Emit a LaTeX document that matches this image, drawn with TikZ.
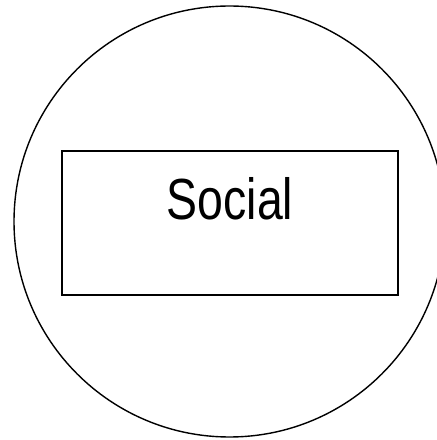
\documentclass[tikz,border=0pt]{standalone}
\usepackage{fontspec}
\setmainfont{Liberation Sans}
\begin{document}
\begin{tikzpicture}[x=1pt,y=1pt,
  ring/.style={circle,draw,line width=1.4pt,minimum size=431pt,inner sep=0pt},
  boxnode/.style={rectangle,draw,line width=2pt,minimum width=336pt,minimum height=144pt,inner sep=0pt},
  lbl/.style={inner sep=0pt,font=\fontsize{58}{60}\selectfont}]
\useasboundingbox (0,0) rectangle (437,440);
\clip (0,0) rectangle (437,440);
\node[ring] (c) at (229.5,218.5) {};
\node[boxnode] (b) at (229.9,217.3) {};
\node[lbl,anchor=base] (t) at (230,220) {\scalebox{0.8}[1]{Social}};
\end{tikzpicture}
\end{document}
